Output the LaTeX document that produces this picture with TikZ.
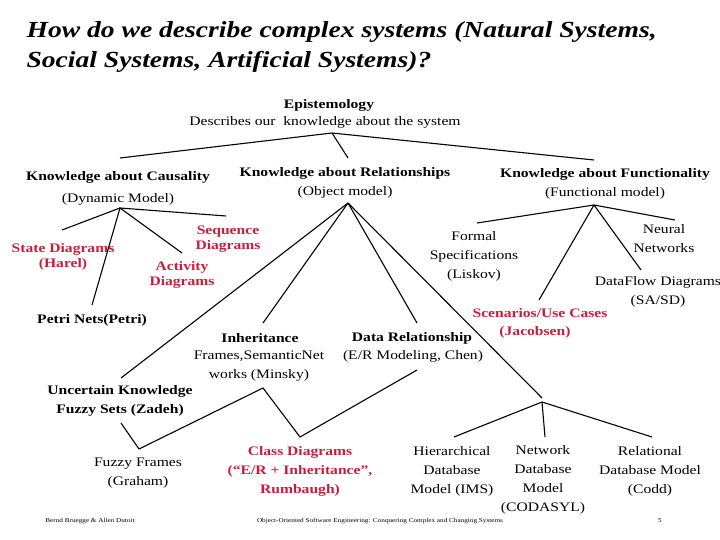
\documentclass[tikz,border=0pt]{standalone}
\usepackage{fontspec}
\setmainfont{Liberation Serif}[FakeStretch=1.2]
\definecolor{myred}{RGB}{200,30,60}
\begin{document}
\begin{tikzpicture}[x=1pt,y=-1pt,
  t/.style={font=\fontsize{13}{15}\selectfont,align=center,inner sep=0pt},
  b/.style={t,font=\fontsize{13}{15}\selectfont\bfseries},
  r/.style={b,text=myred},
  ln/.style={line width=1.1pt}]
\useasboundingbox (0,0) rectangle (720,540);
\node[anchor=west,font=\fontsize{23}{30}\selectfont\bfseries\itshape,align=left] (title) at (23,47) {How do we describe complex systems (Natural Systems,\\Social Systems, Artificial Systems)?};
\node[b] (epi) at (329,105) {Epistemology};
\node[t] (desc) at (325,122) {Describes our\ \ knowledge about the system};
\node[b] (kc) at (118,177) {Knowledge about Causality};
\node[t] (kc2) at (118,199) {(Dynamic Model)};
\node[b] (kr) at (345,173) {Knowledge about Relationships};
\node[t] (kr2) at (345,192) {(Object model)};
\node[b] (kf) at (605,174) {Knowledge about Functionality};
\node[t] (kf2) at (605,193) {(Functional model)};
\node[r] (sd) at (63,257) {State Diagrams\\(Harel)};
\node[r] (seq) at (228,239) {Sequence\\Diagrams};
\node[r] (act) at (182,275) {Activity\\Diagrams};
\node[b] (petri) at (92,320) {Petri Nets(Petri)};
\node[t,font=\fontsize{13}{19}\selectfont] (formal) at (474,256) {Formal\\Specifications\\(Liskov)};
\node[t,font=\fontsize{13}{19}\selectfont] (neural) at (664,239) {Neural\\Networks};
\node[t,font=\fontsize{13}{19}\selectfont] (dfd) at (658,292) {DataFlow Diagrams\\(SA/SD)};
\node[r] (scen) at (540,313) {Scenarios/Use Cases};
\node[r] (jac) at (535,332) {(Jacobsen)};
\node[b] (inh) at (260,338) {Inheritance};
\node[t,font=\fontsize{13}{19}\selectfont] (frames) at (259,366) {Frames,SemanticNet\\works (Minsky)};
\node[b] (dr) at (412,338) {Data Relationship};
\node[t] (er) at (413,356) {(E/R Modeling, Chen)};
\node[b,font=\fontsize{13}{19}\selectfont\bfseries] (unc) at (120,401) {Uncertain Knowledge\\Fuzzy Sets (Zadeh)};
\node[t,font=\fontsize{13}{19}\selectfont] (ff) at (138,473) {Fuzzy Frames\\(Graham)};
\node[r,font=\fontsize{13}{19}\selectfont\bfseries] (cd) at (300,471) {Class Diagrams\\(“E/R + Inheritance”,\\Rumbaugh)};
\node[t,font=\fontsize{13}{19}\selectfont] (hier) at (452,471) {Hierarchical\\Database\\Model (IMS)};
\node[t,font=\fontsize{13}{19}\selectfont] (net) at (543,480) {Network\\Database\\Model\\(CODASYL)};
\node[t,font=\fontsize{13}{19}\selectfont] (rel) at (650,471) {Relational\\Database Model\\(Codd)};
\node[t,font=\fontsize{6}{8}\selectfont] (f1) at (90,521) {Bernd Bruegge \& Allen Dutoit};
\node[t,font=\fontsize{6}{8}\selectfont] (f2) at (380,521) {Object-Oriented Software Engineering: Conquering Complex and Changing Systems};
\node[t,font=\fontsize{6}{8}\selectfont] (f3) at (660,521) {5};
% connectors
\coordinate (a0) at (332,133);
\draw[ln] (120,158) -- (a0) -- (594,160);
\draw[ln] (a0) -- (348,158);
\coordinate (a1) at (120,208);
\draw[ln] (62,230) -- (a1) -- (226,216);
\draw[ln] (92,305) -- (a1) -- (182,253);
\coordinate (a2) at (348,203);
\draw[ln] (a2) -- (121,378);
\draw[ln] (a2) -- (263,323);
\draw[ln] (a2) -- (417,323);
\draw[ln] (a2) -- (542,398);
\draw[ln] (121,423) -- (139,449) -- (263,388) -- (300,437) -- (417,370);
\coordinate (a3) at (542,402);
\draw[ln] (454,437) -- (a3) -- (652,437);
\draw[ln] (a3) -- (545,437);
\coordinate (a4) at (594,205);
\draw[ln] (477,223) -- (a4) -- (675,220);
\draw[ln] (a4) -- (539,300);
\draw[ln] (a4) -- (641,270);
\end{tikzpicture}
\end{document}
